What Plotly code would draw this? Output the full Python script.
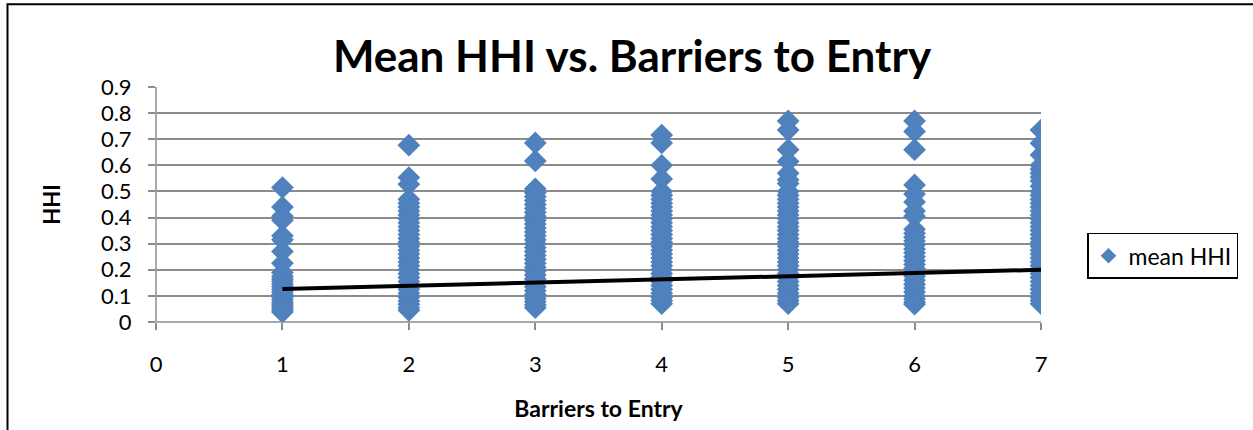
import plotly.graph_objects as go

# Mean HHI observations grouped by barriers-to-entry level
hhi_b1 = [0.515, 0.44, 0.405, 0.39, 0.33, 0.315, 0.27, 0.225, 0.19, 0.175, 0.165, 0.155,
          0.145, 0.135, 0.125, 0.115, 0.105, 0.095, 0.085, 0.075, 0.068, 0.06, 0.052, 0.045, 0.038]
hhi_b2 = [0.677, 0.553, 0.528, 0.47, 0.455, 0.44, 0.425, 0.41, 0.395, 0.38, 0.365, 0.35,
          0.335, 0.32, 0.305, 0.29, 0.275, 0.26, 0.245, 0.23, 0.215, 0.2, 0.185, 0.17, 0.155,
          0.14, 0.125, 0.11, 0.095, 0.08, 0.068, 0.055, 0.045]
hhi_b3 = [0.686, 0.617, 0.51, 0.495, 0.48, 0.465, 0.45, 0.435, 0.42, 0.405, 0.39, 0.375,
          0.36, 0.345, 0.33, 0.315, 0.3, 0.285, 0.27, 0.255, 0.24, 0.225, 0.21, 0.195, 0.18,
          0.165, 0.15, 0.135, 0.12, 0.105, 0.09, 0.078, 0.065, 0.055]
hhi_b4 = [0.716, 0.686, 0.6, 0.548, 0.5, 0.485, 0.47, 0.455, 0.44, 0.425, 0.41, 0.395,
          0.38, 0.365, 0.35, 0.335, 0.32, 0.305, 0.29, 0.275, 0.26, 0.245, 0.23, 0.215, 0.2,
          0.185, 0.17, 0.155, 0.14, 0.125, 0.11, 0.095, 0.082, 0.07]
hhi_b5 = [0.77, 0.735, 0.66, 0.615, 0.57, 0.545, 0.53, 0.5, 0.485, 0.47, 0.455, 0.44,
          0.425, 0.41, 0.395, 0.38, 0.365, 0.35, 0.335, 0.32, 0.305, 0.29, 0.275, 0.26, 0.245,
          0.23, 0.215, 0.2, 0.185, 0.17, 0.155, 0.14, 0.125, 0.11, 0.095, 0.082, 0.07]
hhi_b6 = [0.77, 0.73, 0.66, 0.525, 0.49, 0.46, 0.425, 0.405, 0.355, 0.34, 0.325, 0.31,
          0.295, 0.28, 0.265, 0.25, 0.235, 0.22, 0.205, 0.19, 0.175, 0.16, 0.145, 0.13, 0.115,
          0.1, 0.088, 0.076, 0.068]
hhi_b7 = [0.735, 0.685, 0.64, 0.6, 0.585, 0.57, 0.555, 0.54, 0.52, 0.5, 0.485, 0.47,
          0.455, 0.44, 0.425, 0.41, 0.395, 0.38, 0.365, 0.35, 0.335, 0.32, 0.305, 0.29, 0.275,
          0.26, 0.245, 0.23, 0.215, 0.2, 0.185, 0.17, 0.155, 0.14, 0.125, 0.11, 0.095, 0.082, 0.07]

barrier_levels = [1, 2, 3, 4, 5, 6, 7]
hhi_groups = [hhi_b1, hhi_b2, hhi_b3, hhi_b4, hhi_b5, hhi_b6, hhi_b7]

# Linear trend line endpoints
trend_x = [1, 7]
trend_y = [0.126, 0.200]

x_ticks = [0, 1, 2, 3, 4, 5, 6, 7]
y_ticks = [0, 0.1, 0.2, 0.3, 0.4, 0.5, 0.6, 0.7, 0.8, 0.9]
y_ticklabels = ["0", "0.1", "0.2", "0.3", "0.4", "0.5", "0.6", "0.7", "0.8", "0.9"]

xs, ys = [], []
for level, vals in zip(barrier_levels, hhi_groups):
    xs.extend([level] * len(vals))
    ys.extend(vals)

FONT = "Lato"
BLUE = "#4F81BD"
GRID = "#8C8C8C"

fig = go.Figure()
fig.add_trace(go.Scatter(
    x=xs, y=ys, mode="markers", name="mean HHI",
    marker=dict(symbol="diamond", size=17.5, color=BLUE, line=dict(width=0)),
))
fig.add_trace(go.Scatter(
    x=trend_x, y=trend_y, mode="lines", showlegend=False,
    line=dict(color="black", width=4),
))

W, H = 1253, 430
L, R, T, B = 156, 212, 87, 106
pw, ph = W - L - R, H - T - B


def px_x(p):
    return (p - L) / pw


def px_y(p):
    return (H - B - p) / ph


fig.update_layout(
    width=W, height=H,
    margin=dict(l=L, r=R, t=T, b=B, pad=0),
    paper_bgcolor="white", plot_bgcolor="white",
    font=dict(family=FONT, color="black", size=22),
    title=dict(text="<b>Mean HHI vs. Barriers to Entry</b>",
               font=dict(family=FONT, size=44, color="black"),
               x=px_x(632), xanchor="center", xref="paper",
               y=1 - 57 / H, yanchor="middle"),
    showlegend=True,
    legend=dict(x=px_x(1087), y=px_y(234), xanchor="left", yanchor="top",
                bordercolor="black", borderwidth=1.5, bgcolor="white",
                font=dict(family=FONT, size=23, color="black"),
                itemsizing="constant", itemwidth=30),
    xaxis=dict(range=[0, 7], tickvals=x_ticks, ticktext=[str(t) for t in x_ticks],
               showgrid=False, zeroline=False, showline=False,
               ticks="outside", ticklen=7, tickcolor=GRID, tickwidth=1.5,
               ticklabelstandoff=16,
               tickfont=dict(family=FONT, size=22),
               title=dict(text="<b>Barriers to Entry</b>", standoff=24,
                          font=dict(family=FONT, size=23))),
    yaxis=dict(range=[0, 0.9], tickvals=y_ticks, ticktext=y_ticklabels,
               showgrid=True, gridcolor=GRID, gridwidth=1.5,
               zeroline=False, showline=False,
               ticks="outside", ticklen=7, tickcolor=GRID, tickwidth=1.5,
               ticklabelstandoff=12,
               tickfont=dict(family=FONT, size=22),
               title=dict(text="<b>HHI</b>", standoff=34,
                          font=dict(family=FONT, size=22))),
)

# Axis lines drawn below the markers
fig.add_shape(type="line", xref="paper", yref="paper", x0=0, x1=1, y0=0, y1=0,
              line=dict(color=GRID, width=1.5), layer="below")
fig.add_shape(type="line", xref="paper", yref="paper", x0=0, x1=0, y0=0, y1=1,
              line=dict(color=GRID, width=1.5), layer="below")

# Outer chart-area frame
fig.add_shape(type="rect", xref="paper", yref="paper",
              x0=px_x(7.5), x1=px_x(1270), y0=px_y(3.5), y1=px_y(450),
              line=dict(color="black", width=2), fillcolor="rgba(0,0,0,0)", layer="above")

fig.write_html("out.html")
